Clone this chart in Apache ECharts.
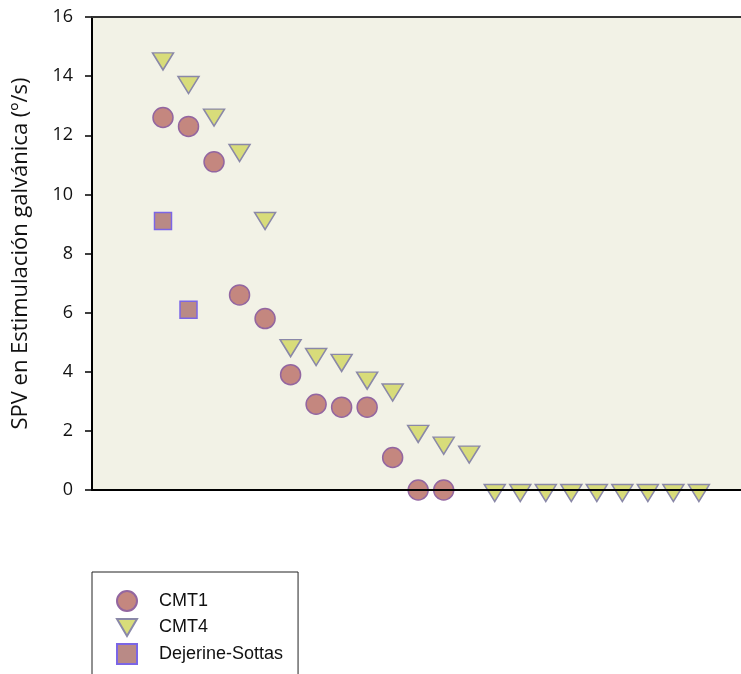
<!DOCTYPE html>
<html>
<head>
<meta charset="utf-8">
<script src="https://cdn.jsdelivr.net/npm/echarts@6/dist/echarts.min.js"></script>
<style>
html,body{margin:0;padding:0;background:#fff;}
#c{width:741px;height:674px;}
</style>
</head>
<body>
<div id="c"></div>
<script>
// Patient values (SPV, º/s), ordered by patient position
var cmt1 = [12.6, 12.3, 11.1, 6.6, 5.8, 3.9, 2.9, 2.8, 2.8, 1.1, 0, 0];
var cmt4 = [14.6, 13.8, 12.7, 11.5, 9.2, 4.9, 4.6, 4.4, 3.8, 3.4, 2.0, 1.6, 1.3, 0, 0, 0, 0, 0, 0, 0, 0, 0];
var dss = [9.1, 6.1];
var seriesNames = ['CMT1', 'CMT4', 'Dejerine-Sottas'];
var yTicks = [0, 2, 4, 6, 8, 10, 12, 14, 16];

function toPoints(arr) {
  return arr.map(function (v, i) { return [i + 1, v]; });
}

var chart = echarts.init(document.getElementById('c'));
chart.setOption({
  animation: false,
  backgroundColor: '#ffffff',
  grid: {
    left: 92, top: 17, right: 0, bottom: 184,
    show: true, backgroundColor: '#f2f2e6', borderWidth: 0
  },
  xAxis: [{
    type: 'value', min: -1.782, max: 23.65, position: 'bottom', z: 5,
    axisLine: { show: true, onZero: false, lineStyle: { color: '#000', width: 2 } },
    axisTick: { show: false }, axisLabel: { show: false }, splitLine: { show: false }
  }, {
    type: 'value', min: -1.782, max: 23.65, position: 'top', z: 5,
    axisLine: { show: true, onZero: false, lineStyle: { color: '#333', width: 2 } },
    axisTick: { show: false }, axisLabel: { show: false }, splitLine: { show: false }
  }],
  yAxis: {
    type: 'value', min: 0, max: 16, interval: 2,
    name: 'SPV en Estimulación galvánica (º/s)',
    nameLocation: 'middle', nameGap: 60, nameRotate: 90,
    nameTextStyle: { fontFamily: 'Open Sans', fontSize: 22, color: '#111' },
    axisLine: { show: true, onZero: false, lineStyle: { color: '#000', width: 2 } },
    axisTick: { show: true, inside: false, length: 7, lineStyle: { color: '#000', width: 1.5 } },
    axisLabel: {
      fontFamily: 'Open Sans', fontSize: 18, color: '#111', margin: 19,
      formatter: function (v) { return yTicks.indexOf(v) >= 0 ? String(v) : ''; }
    },
    splitLine: { show: false }
  },
  legend: {
    orient: 'vertical', left: 92, top: 572, height: 200,
    padding: [18, 15, 20, 24],
    borderColor: '#222', borderWidth: 1, backgroundColor: '#fff',
    itemWidth: 20, itemHeight: 20, itemGap: 6,
    textStyle: { fontFamily: 'Liberation Sans, Arial', fontSize: 18, color: '#111', padding: [2, 0, 0, 17] },
    data: seriesNames
  },
  series: [{
    name: seriesNames[0], type: 'scatter', data: toPoints(cmt1),
    symbol: 'circle', symbolSize: 20,
    itemStyle: { color: '#c4877f', borderColor: '#9366a0', borderWidth: 1.5, opacity: 1 }
  }, {
    name: seriesNames[1], type: 'scatter', data: toPoints(cmt4),
    symbol: 'path://M0,0L20,0L10,17Z', symbolSize: [21, 17], symbolOffset: [0, 3],
    itemStyle: { color: '#d8dc7a', borderColor: '#8a88a8', borderWidth: 1.5, opacity: 1 }
  }, {
    name: seriesNames[2], type: 'scatter', data: toPoints(dss),
    symbol: 'rect', symbolSize: 17,
    itemStyle: { color: '#b98a86', borderColor: '#7b66e6', borderWidth: 1.5, opacity: 1 }
  }]
});
</script>
</body>
</html>
